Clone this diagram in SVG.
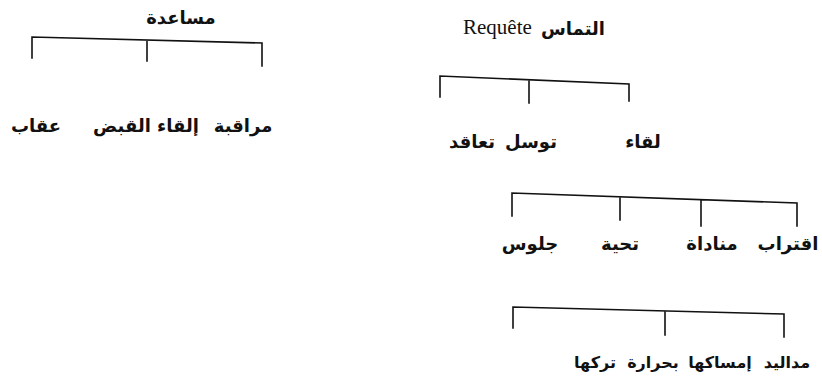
<svg xmlns="http://www.w3.org/2000/svg" width="822" height="385" viewBox="0 0 822 385">
<style>
.ar{font-family:"DejaVu Sans",sans-serif;font-size:18px;fill:#111;text-anchor:middle;font-weight:bold}
.sm{font-size:16px}
.lt{font-family:"Liberation Serif",serif;font-size:21px;fill:#111}
.ln{stroke:#111;stroke-width:1.6;fill:none;stroke-linecap:square}
</style>
<rect width="822" height="385" fill="#fff"/>
<g id="node-musaada"><text class="ar" x="181" y="24">مساعدة</text></g>
<g id="node-muraqaba"><text class="ar" x="243" y="132">مراقبة</text></g>
<g id="node-ilqa-alqabd"><text class="ar" x="146" y="132">إلقاء القبض</text></g>
<g id="node-iqab"><text class="ar" x="36" y="132">عقاب</text></g>
<g id="node-iltimas"><text class="lt" x="463" y="34">Requête</text><text class="ar" x="573" y="35">التماس</text></g>
<g id="node-liqa"><text class="ar" x="643" y="148">لقاء</text></g>
<g id="node-tawassul"><text class="ar" x="531" y="148">توسل</text></g>
<g id="node-taaqud"><text class="ar" x="472" y="148">تعاقد</text></g>
<g id="node-iqtirab"><text class="ar" x="788" y="250">اقتراب</text></g>
<g id="node-munadat"><text class="ar" x="712" y="250">مناداة</text></g>
<g id="node-tahiya"><text class="ar" x="620" y="250">تحية</text></g>
<g id="node-julus"><text class="ar" x="530" y="250">جلوس</text></g>
<g id="node-madd-alyad"><text class="ar sm" x="787" y="368">مداليد</text></g>
<g id="node-imsakuha"><text class="ar sm" x="720" y="368">إمساكها</text></g>
<g id="node-bihararah"><text class="ar sm" x="653" y="368">بحرارة</text></g>
<g id="node-tarkuha"><text class="ar sm" x="595" y="368">تركها</text></g>
<g id="connectors">
<path class="ln" d="M32 58 V37 L262 43 V66 M147 40 V61"/>
<path class="ln" d="M440 97 V76 L629 84 V101 M529 80 V103"/>
<path class="ln" d="M512 216 V193 L797 203 V226 M620 197 V220 M701 200 V226"/>
<path class="ln" d="M513 328 V307 L784 314 V337 M665 311 V335"/>
</g>
</svg>
